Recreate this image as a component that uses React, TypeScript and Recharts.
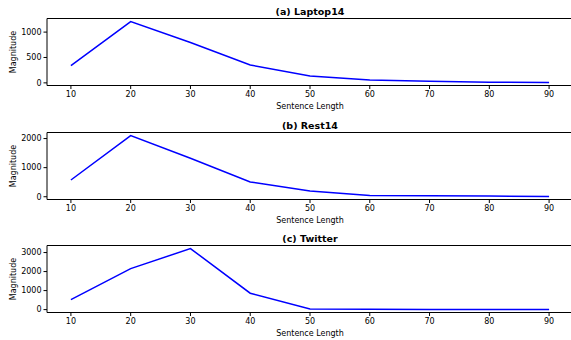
import React from 'react';
import { LineChart, Line, XAxis, YAxis, ReferenceLine } from 'recharts';

const lengths = [10, 20, 30, 40, 50, 60, 70, 80, 90];
const laptop14 = [338, 1207, 795, 352, 133, 54, 34, 14, 8];
const rest14 = [576, 2103, 1321, 507, 197, 45, 35, 24, 10];
const twitter = [529, 2153, 3211, 862, 32, 16, 12, 10, 8];

const titles = ['(a) Laptop14', '(b) Rest14', '(c) Twitter'];
const xTicks = [10, 20, 30, 40, 50, 60, 70, 80, 90];
const yTicksA = [0, 500, 1000];
const yTicksB = [0, 1000, 2000];
const yTicksC = [0, 1000, 2000, 3000];

const panels = [
  { title: titles[0], values: laptop14, ticks: yTicksA, domain: [-52, 1268], top: 0 },
  { title: titles[1], values: rest14, ticks: yTicksB, domain: [-95, 2208], top: 113.5 },
  { title: titles[2], values: twitter, ticks: yTicksC, domain: [-152, 3371], top: 227 },
];

const FONT = 'DejaVu Sans';

function Panel({ p }: { p: any }) {
  const data = lengths.map((x, i) => ({ x, y: p.values[i] }));
  return (
    <div style={{ position: 'absolute', left: 0, top: p.top }}>
      <LineChart width={580} height={113} data={data} margin={{ top: 18.5, right: 7, bottom: 0, left: 0 }}>
        <XAxis
          dataKey="x"
          type="number"
          domain={[6, 94]}
          ticks={xTicks}
          height={27.5}
          tickSize={3.5}
          tickMargin={2}
          axisLine={{ stroke: '#000', strokeWidth: 1 }}
          tickLine={{ stroke: '#000' }}
          tick={{ fontFamily: FONT, fontSize: 8, fill: '#000' }}
          label={{ value: 'Sentence Length', position: 'insideBottom', offset: 4, style: { fontFamily: FONT, fontSize: 8, fill: '#000' } }}
        />
        <YAxis
          type="number"
          domain={p.domain}
          ticks={p.ticks}
          width={47}
          tickSize={3.5}
          tickMargin={2}
          allowDataOverflow
          axisLine={{ stroke: '#000', strokeWidth: 1 }}
          tickLine={{ stroke: '#000' }}
          tick={{ fontFamily: FONT, fontSize: 8, fill: '#000' }}
          label={{ value: 'Magnitude', angle: -90, position: 'insideLeft', offset: 13, textAnchor: 'middle', style: { fontFamily: FONT, fontSize: 8, fill: '#000', textAnchor: 'middle' } }}
        />
        <ReferenceLine
          y={p.domain[1]}
          stroke="#000"
          strokeWidth={1}
          label={{ value: p.title, position: 'top', offset: 4, style: { fontFamily: FONT, fontSize: 9.5, fontWeight: 'bold', fill: '#000' } }}
        />
        <Line type="linear" dataKey="y" stroke="#0000ff" strokeWidth={1.5} dot={false} isAnimationActive={false} />
      </LineChart>
    </div>
  );
}

export default function App() {
  return (
    <div style={{ position: 'absolute', left: 0, top: 0, width: 571, height: 340, overflow: 'hidden', background: '#fff', fontFamily: FONT }}>
      {panels.map((p) => (
        <Panel key={p.title} p={p} />
      ))}
    </div>
  );
}
